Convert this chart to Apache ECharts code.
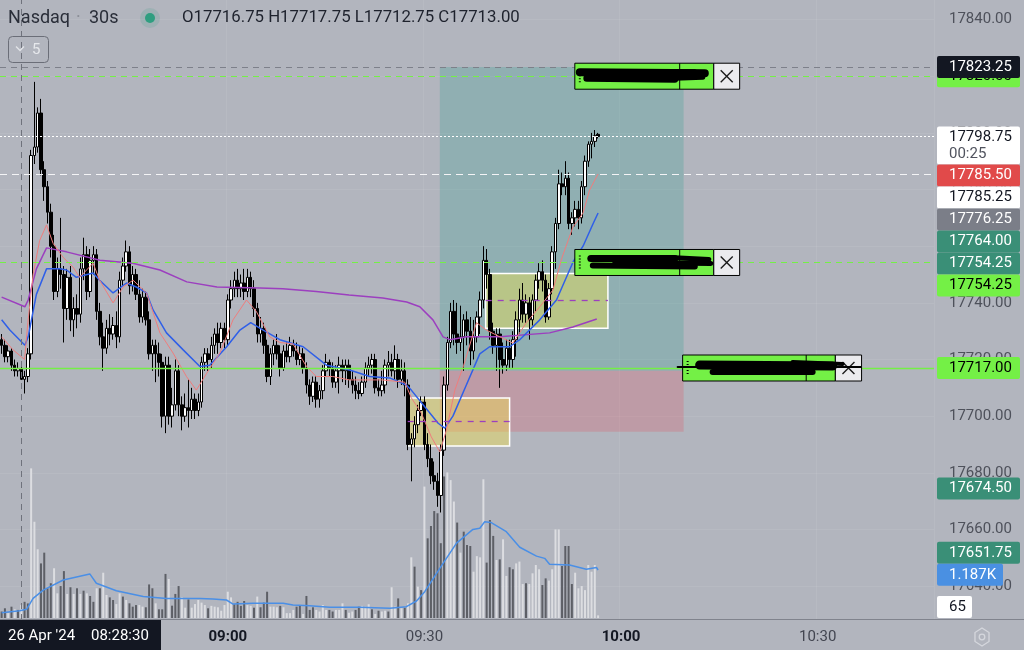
<!DOCTYPE html>
<html><head><meta charset="utf-8">
<script src="https://cdn.jsdelivr.net/npm/echarts@6/dist/echarts.min.js"></script>
<style>html,body{margin:0;padding:0;background:#b2b5be;}#c{width:1024px;height:650px;}</style>
</head><body><div id="c"></div>
<script>
// ---------- DATA ----------
const SYMBOL = 'Nasdaq';
const TIMEFRAME = '30s';
const START_TIME = '08:25:30';
const BAR_SECONDS = 30;
const TIME_TICKS = ['09:00', '09:30', '10:00', '10:30'];
const BOLD_TICKS = ['09:00', '10:00'];
const PRICE_TICKS = [17640, 17660, 17680, 17700, 17720, 17740, 17760, 17780, 17800, 17820, 17840];
const HOVER_BAR = 6;
const HOVER_DATE = "26 Apr '24";
const HOVER_TIME = '08:28:30';
const LEGEND_OHLC = ['O17716.75', 'H17717.75', 'L17712.75', 'C17713.00'];

// [open, close, low, high]
const OHLC = [
[17727,17725,17722,17729],[17725,17721,17719,17727],[17721,17723,17719,17725],[17723,17718,17716,17724],[17718,17716,17714,17720],
[17716,17716.75,17714,17719],[17716.75,17713,17712.75,17717.75],[17713,17714,17708,17716],[17714,17722,17712,17724],[17722,17792,17720,17794],
[17792,17795,17789,17818],[17795,17807,17793,17809],[17807,17787,17785,17812],[17787,17781,17776,17790],[17781,17772,17768,17783],
[17772,17760,17756,17775],[17760,17744,17741,17764],[17744,17752,17742,17756],[17752,17750,17745,17770],[17750,17738,17726,17753],
[17738,17749,17734,17752],[17749,17734,17730,17753],[17734,17738,17728,17742],[17738,17736,17731,17743],[17736,17752,17733,17756],
[17752,17757,17748,17763],[17757,17744,17741,17760],[17744,17755,17742,17759],[17755,17757,17750,17760],[17757,17737,17734,17759],
[17737,17728,17725,17740],[17728,17724,17716,17733],[17724,17731,17722,17734],[17731,17729,17725,17736],[17729,17732,17727,17735],
[17732,17728,17724,17737],[17728,17748,17726,17751],[17748,17753,17746,17756],[17753,17758,17751,17762],[17758,17746,17743,17760],
[17746,17750,17744,17753],[17750,17743,17741,17752],[17743,17735,17733,17748],[17735,17742,17733,17745],[17742,17734,17732,17744],
[17734,17722,17720,17737],[17722,17725,17716,17727],[17725,17722,17712,17727],[17722,17719,17714,17726],[17719,17700,17696,17722],
[17700,17718,17694,17721],[17718,17700,17697,17721],[17700,17704,17696,17710],[17704,17716,17702,17720],[17716,17704,17700,17718],
[17704,17700,17695,17707],[17700,17703,17698,17708],[17703,17702,17696,17713],[17702,17706,17699,17710],[17706,17702,17699,17708],
[17702,17705,17700,17708],[17705,17719,17703,17721],[17719,17722,17716,17724],[17722,17720,17716,17724],[17720,17725,17717,17728],
[17725,17729,17722,17731],[17729,17726,17722,17733],[17726,17731,17724,17733],[17731,17727,17724,17733],[17727,17741,17725,17743],
[17741,17745,17738,17748],[17745,17748,17742,17751],[17748,17745,17742,17752],[17745,17747,17742,17750],[17747,17744,17741,17752],
[17744,17749,17742,17752],[17749,17745,17742,17751],[17745,17738,17735,17748],[17738,17729,17726,17740],[17729,17731,17726,17735],
[17731,17725,17722,17733],[17725,17714,17712,17727],[17714,17722,17711,17724],[17722,17725,17718,17727],[17725,17722,17720,17729],
[17722,17717,17714,17725],[17717,17723,17716,17725],[17723,17721,17719,17726],[17721,17725,17719,17728],[17725,17723,17721,17727],
[17723,17720,17718,17726],[17720,17722,17718,17725],[17722,17717,17715,17724],[17717,17711,17708,17719],[17711,17707,17704,17713],
[17707,17712,17705,17714],[17712,17706,17703,17714],[17706,17709,17703,17711],[17709,17716,17706,17718],[17716,17719,17714,17722],
[17719,17717,17714,17720],[17717,17712,17710,17719],[17712,17716,17710,17718],[17716,17718,17708,17721],[17718,17716,17712,17720],
[17716,17718,17711,17720],[17718,17713,17710,17720],[17713,17711,17708,17716],[17711,17709,17706,17714],[17709,17708,17706,17712],
[17708,17712,17707,17714],[17712,17717,17710,17719],[17717,17718,17714,17721],[17718,17720,17715,17722],[17720,17710,17708,17722],
[17710,17709,17707,17713],[17709,17711,17707,17716],[17711,17718,17708,17720],[17718,17719,17714,17723],[17719,17716,17714,17722],
[17716,17720,17713,17725],[17720,17713,17710,17722],[17713,17716,17711,17720],[17716,17711,17707,17719],[17711,17690,17688,17713],
[17690,17692,17677,17694],[17692,17697,17689,17700],[17697,17702,17694,17704],[17702,17705,17700,17707],[17705,17690,17688,17707],
[17690,17685,17682,17694],[17685,17679,17676,17690],[17679,17677,17674,17684],[17677,17672,17668,17680],[17672,17688,17666,17690],
[17688,17711,17686,17714],[17711,17726,17709,17728],[17726,17737,17724,17740],[17737,17729,17725,17741],[17729,17726,17722,17740],
[17726,17728,17723,17739],[17728,17734,17716,17736],[17734,17730,17725,17737],[17730,17723,17718,17735],[17723,17728,17720,17734],
[17728,17735,17726,17737],[17735,17741,17729,17744],[17741,17755,17738,17760],[17755,17750,17745,17759],[17750,17730,17727,17752],
[17730,17725,17722,17733],[17725,17729,17716,17731],[17729,17720,17710,17731],[17720,17718,17715,17726],[17718,17724,17716,17727],
[17724,17720,17717,17727],[17720,17727,17717,17730],[17727,17734,17721,17737],[17734,17741,17729,17745],[17741,17736,17733,17747],
[17736,17740,17733,17743],[17740,17734,17727,17742],[17734,17741,17732,17743],[17741,17748,17737,17750],[17748,17751,17745,17754],
[17751,17748,17744,17755],[17748,17735,17733,17750],[17735,17745,17734,17747],[17745,17758,17743,17760],[17758,17768,17752,17770],
[17768,17782,17766,17787],[17782,17781,17778,17786],[17781,17784,17778,17790],[17784,17768,17766,17786],[17768,17770,17764,17772],
[17770,17773,17767,17776],[17773,17770,17766,17776],[17770,17781,17768,17783],[17781,17790,17778,17792],[17790,17796,17788,17797],
[17796,17797,17791,17800],[17797,17799,17795,17801],[17799.5,17798.75,17798,17800]
];

const VOLUME = [
160,240,120,280,215,200,320,400,360,3700,
2380,1700,1350,1616,735,860,1230,610,790,1160,
595,760,595,735,595,675,610,545,400,735,
735,1120,570,510,445,345,610,530,445,363,
280,320,320,280,265,830,735,363,215,215,
1090,965,305,595,790,510,255,460,255,345,
445,380,320,240,300,280,265,180,320,650,
510,340,400,300,420,320,300,255,530,265,
380,650,280,280,265,300,265,120,120,200,
280,300,100,545,200,265,200,160,320,200,
200,160,200,200,363,200,130,160,200,280,
300,280,340,215,100,180,160,180,160,760,
280,485,240,255,363,1500,1270,775,690,3250,
1970,2275,2645,2590,1850,3500,3600,3410,2880,2360,
1616,2135,1805,1780,1145,1530,1500,3430,1370,2424,
2030,1435,1450,1945,1040,1255,1205,1350,1395,840,
860,840,1105,1310,1205,815,980,925,1205,2190,
2190,1285,1780,1780,840,1120,735,790,690,1310,
1145,1310,65
];
// u = light (up) volume bar, d = dark (down) volume bar
const VOLUME_SIDE =
'ddudududdu' + 'uudddduudd' + 'ududududdu' + 'duudduudud' + 'dduudddudd' +
'duddduuduu' + 'uuuduuuuuu' + 'udddduudud' + 'dduuuduuuu' + 'dduddduuuu' +
'dduuuduudd' + 'uuududuudu' + 'ududuududu' + 'dddddduuud' + 'uddduuuudd' +
'duduudduuu' + 'duuuudduuu' + 'udddduuuuu' + 'uuu';

// moving averages: [bar index, value]
const EMA_FAST = [[0,17728],[3.5,17723.4],[7,17720],[8,17733],[9.6,17750],[11.6,17762],[13.7,17767.5],[15.7,17761],[18.8,17756],[21.8,17752.6],[23.8,17749],[27.9,17754],[29.9,17748],[34,17740],[37.1,17745.6],[40.1,17748],[44.2,17743.5],[48.3,17729.4],[52.3,17722.3],[56.4,17714],[59.4,17709.2],[62.5,17715],[66.6,17722.3],[70.6,17734],[74.7,17741],[77.7,17737],[81.8,17728],[84.9,17726],[88.9,17725.5],[93,17717.6],[96,17714],[101,17714],[106,17712.8],[116,17712.8],[123,17712],[125,17706.5],[128.1,17701],[131.1,17692.7],[133.7,17687.4],[135.7,17695],[138.3,17709.2],[141,17718],[144.9,17733],[147.9,17730.4],[152,17728],[156,17725.8],[160.1,17733],[164.2,17738.6],[168.2,17744.5],[171,17756],[174.3,17766.7],[177.4,17771.7],[179.4,17779.8],[182,17785.5]];
const EMA_MID = [[0,17734],[2.5,17730.4],[7.1,17725],[8.1,17728],[9.1,17734],[10.6,17743],[13.7,17752],[17.7,17752],[19.8,17751.6],[22.8,17749],[27.9,17750.5],[29.9,17748],[34,17743.5],[38.1,17747],[41.1,17745.6],[44.2,17743.5],[46.2,17737.5],[50.3,17729.4],[55.4,17723.4],[60.5,17717.5],[63.5,17718],[68.6,17724.4],[72.7,17730.4],[76,17733],[79.8,17730.4],[84.9,17727],[92,17724.5],[99.1,17718],[106.2,17716.3],[112.3,17714],[118.4,17713.5],[123.5,17711],[125,17709.2],[129.1,17703.3],[133.2,17697.5],[135.2,17695.8],[137.7,17700],[141.8,17711],[145.9,17722],[148.9,17724.5],[155,17724.5],[158.1,17727],[164.2,17734],[169.3,17741],[174.4,17754.5],[177.4,17760],[180.5,17768],[182,17771.7]];
const EMA_SLOW = [[0,17742],[7.1,17738.6],[8.1,17741],[10.6,17752],[13.7,17759.4],[19.8,17758],[30,17755],[40,17754],[48.3,17751.6],[56.5,17747.4],[65.7,17745.6],[78.8,17745.2],[85.8,17745],[96,17744],[106,17742.8],[116.3,17741.7],[123.6,17740.3],[127.6,17738.6],[131.6,17734],[134.7,17728],[136.8,17727],[141.9,17728],[152,17728],[167.2,17729.4],[174.3,17731.5],[181.6,17734.3]];
const VOLUME_MA = [[0,130],[5.5,180],[7.6,215],[9.6,485],[12.7,690],[18.8,940],[26.9,1090],[28.9,860],[35,675],[43.2,530],[50.3,485],[60.5,485],[64.5,470],[68.6,445],[70.6,345],[76.7,363],[85.9,363],[88.9,320],[94,300],[100.1,265],[109.3,265],[118.4,240],[123.5,280],[126.6,420],[129.1,650],[134.7,1350],[138.8,1850],[143.8,2190],[145.9,2220],[147.4,2380],[149.4,2360],[154,2135],[158.1,1750],[163.2,1530],[165.7,1475],[167.2,1330],[173.3,1310],[178.4,1205],[181.5,1250],[182,1187]];

// drawing-tool values
const POSITION = { from: 133.7, to: 208.1, target: 17823.25, entry: 17716, stop: 17694.5 };
const ZONES = [
  { from: 123.9, to: 155.0, low: 17689.5, high: 17706.4, mid: 17698.05 },
  { from: 147.7, to: 185.0, low: 17731.0, high: 17750.4, mid: 17740.8 }
];
const LEVELS = { stopLine: 17823.25, tp: 17820, last: 17798.75, ema: 17785.5, limit: 17754.25, entry: 17717 };

const PRICE_LABELS = [
  { price: 17820,    text: '17820.00', bg: '#74f046', fg: '#000000', stack: false },
  { price: 17823.25, text: '17823.25', bg: '#131722', fg: '#ffffff' },
  { price: 17798.75, text: '17798.75', sub: '00:25', bg: '#ffffff', fg: '#131722' },
  { price: 17785.5,  text: '17785.50', bg: '#e14a4a', fg: '#ffffff' },
  { price: 17785.25, text: '17785.25', bg: '#ffffff', fg: '#131722' },
  { price: 17776.25, text: '17776.25', bg: '#7b7e88', fg: '#ffffff' },
  { price: 17764.0,  text: '17764.00', bg: '#3a8f77', fg: '#ffffff' },
  { price: 17754.25, text: '17754.25', bg: '#3a8f77', fg: '#ffffff' },
  { price: 17754.25, text: '17754.25', bg: '#74f046', fg: '#000000' },
  { price: 17717.0,  text: '17717.00', bg: '#74f046', fg: '#000000' },
  { price: 17674.5,  text: '17674.50', bg: '#3a8f77', fg: '#ffffff' },
  { price: 17651.75, text: '17651.75', bg: '#3a8f77', fg: '#ffffff' }
];
const VOLUME_LABELS = [
  { vol: 1187, text: '1.187K', bg: '#4a90e2', fg: '#ffffff', w: 66 },
  { vol: 65,   text: '65',     bg: '#ffffff', fg: '#131722', w: 35 }
];
const ORDER_BOXES = [
  { price: 17820,    x0: 174.9, xDiv: 206.9, x1: 217.3, x2: 225.2, scribble: [[5,-4,130,-3,8],[12,2,100,3,7],[60,-5,120,-5,4],[100,2,128,1,5]] },
  { price: 17754.25, x0: 174.9, xDiv: 206.9, x1: 217.3, x2: 225.2, scribble: [[16,-4,100,-4,7],[18,3,120,4,6],[40,0,136,1,5],[95,-5,134,-3,5]] },
  { price: 17717,    x0: 207.8, xDiv: 245.5, x1: 254.4, x2: 262.4, scribble: [[-5,-1,178,-1,2],[17,-3,150,-2,9],[30,4,130,4,6],[110,-6,160,-4,4]] }
];

// ---------- LAYOUT ----------
const N_CATS = 285;
const PLOT_W = 934, PLOT_H = 620, VOL_H = 618;
const Y_MIN = 17628.05, Y_MAX = 17846.9;
const VOL_MAX = 15282;
const FONT = 'Roboto';
const LBL_FS = 15;

function toSec(t) { const p = t.split(':').map(Number); return p[0]*3600 + p[1]*60 + (p[2]||0); }
function fmtT(s) { const h = Math.floor(s/3600), m = Math.floor(s%3600/60), x = s%60; return [h,m,x].map(v => String(v).padStart(2,'0')).join(':'); }
const CATS = [];
for (let i = 0; i < N_CATS; i++) CATS.push(fmtT(toSec(START_TIME) + i*BAR_SECONDS));
const isTick = (idx, val) => val.endsWith(':00') && TIME_TICKS.includes(val.slice(0,5));

const chart = echarts.init(document.getElementById('c'), null, { renderer: 'canvas' });

const gridLine = 'rgba(255,255,255,0.07)';
const option = {
  backgroundColor: '#b2b5be',
  animation: false,
  grid: [
    { left: 0, top: 0, width: PLOT_W, height: PLOT_H },
    { left: 0, top: 0, width: PLOT_W, height: VOL_H }
  ],
  xAxis: [
    { type: 'category', gridIndex: 0, data: CATS, boundaryGap: true,
      axisLine: { show: false }, axisTick: { show: false },
      axisLabel: { interval: isTick, margin: 10,
        formatter: v => { const t = v.slice(0,5); return BOLD_TICKS.includes(t) ? '{b|' + t + '}' : '{n|' + t + '}'; },
        rich: { b: { fontWeight: 'bold', color: '#131722', fontSize: 15, fontFamily: FONT },
                n: { color: '#434651', fontSize: 15, fontFamily: FONT } } },
      splitLine: { show: true, interval: isTick, lineStyle: { color: gridLine } } },
    { type: 'category', gridIndex: 1, data: CATS, boundaryGap: true, show: false },
    { type: 'value', gridIndex: 0, min: -0.5, max: N_CATS - 0.5, show: false },
    { type: 'value', gridIndex: 1, min: -0.5, max: N_CATS - 0.5, show: false }
  ],
  yAxis: [
    { type: 'value', gridIndex: 0, position: 'right', min: Y_MIN, max: Y_MAX,
      axisLine: { show: false }, axisTick: { show: false, customValues: PRICE_TICKS },
      axisLabel: { customValues: PRICE_TICKS, formatter: v => v.toFixed(2), align: 'left', margin: 15,
        color: '#4e515b', fontSize: LBL_FS, fontFamily: FONT },
      splitLine: { show: true, lineStyle: { color: gridLine } } },
    { type: 'value', gridIndex: 1, min: 0, max: VOL_MAX, show: false }
  ],
  series: [
    { type: 'bar', name: 'Volume', xAxisIndex: 1, yAxisIndex: 1, barWidth: 2, z: 1, silent: true,
      data: VOLUME.map((v, i) => ({ value: v, itemStyle: { color: VOLUME_SIDE[i] === 'u' ? '#dcdde1' : '#5d5f66' } })) },
    { type: 'line', name: 'Volume MA', xAxisIndex: 3, yAxisIndex: 1, data: VOLUME_MA, symbol: 'none', z: 2,
      lineStyle: { color: '#4a8fe6', width: 1.5 } },
    { type: 'line', name: 'Drawings', xAxisIndex: 2, yAxisIndex: 0, data: EMA_SLOW, symbol: 'none', z: 2, silent: true,
      lineStyle: { opacity: 0 },
      markArea: { silent: true, data: [
        [{ coord: [POSITION.from, POSITION.target], itemStyle: { color: 'rgba(8,153,129,0.2)' } }, { coord: [POSITION.to, POSITION.entry] }],
        [{ coord: [POSITION.from, POSITION.entry], itemStyle: { color: 'rgba(242,54,69,0.2)' } }, { coord: [POSITION.to, POSITION.stop] }],
        ...ZONES.map(z => [{ coord: [z.from, z.high], itemStyle: { color: 'rgba(255,235,59,0.36)', borderColor: '#ffffff', borderWidth: 1.5 } }, { coord: [z.to, z.low] }])
      ] },
      markLine: { silent: true, symbol: ['none', 'none'], label: { show: false }, data: [
        { yAxis: LEVELS.stopLine, lineStyle: { color: '#7d808a', type: [6, 5], width: 1 } },
        { yAxis: LEVELS.tp, lineStyle: { color: '#74f046', type: [6, 5], width: 1.2 } },
        { yAxis: LEVELS.last, lineStyle: { color: '#ffffff', type: [2, 2], width: 1 } },
        { yAxis: LEVELS.ema, lineStyle: { color: '#f4f4f6', type: [7, 5], width: 1.2 } },
        { yAxis: LEVELS.limit, lineStyle: { color: '#74f046', type: [6, 5], width: 1.2 } },
        { yAxis: LEVELS.entry, lineStyle: { color: '#74f046', type: 'solid', width: 1.3 } },
        { xAxis: HOVER_BAR, lineStyle: { color: '#6f727c', type: [6, 5], width: 1 } },
        ...ZONES.map(z => [{ coord: [z.from, z.mid], lineStyle: { color: '#9c3fbf', type: [6, 6], width: 1.3 } }, { coord: [z.to, z.mid] }])
      ] } },
    { type: 'candlestick', name: SYMBOL, xAxisIndex: 0, yAxisIndex: 0, data: OHLC, barWidth: 3, z: 3,
      itemStyle: { color: '#ffffff', color0: '#000000', borderColor: '#000000', borderColor0: '#000000', borderWidth: 1 } },
    { type: 'line', name: 'VWAP', xAxisIndex: 2, yAxisIndex: 0, data: EMA_SLOW, symbol: 'none', z: 4,
      lineStyle: { color: '#9c3fbf', width: 1.5 } },
    { type: 'line', name: 'EMA slow', xAxisIndex: 2, yAxisIndex: 0, data: EMA_MID, symbol: 'none', z: 4,
      lineStyle: { color: '#2f5fe8', width: 1.5 } },
    { type: 'line', name: 'EMA fast', xAxisIndex: 2, yAxisIndex: 0, data: EMA_FAST, symbol: 'none', z: 4,
      lineStyle: { color: '#ef7d7d', width: 1 } }
  ]
};
chart.setOption(option);

// ---------- overlay graphics (price-scale labels, legend, order tags) ----------
const X = i => chart.convertToPixel({ xAxisIndex: 2 }, i);
const Y = p => chart.convertToPixel({ yAxisIndex: 0 }, p);
const YV = v => chart.convertToPixel({ yAxisIndex: 1 }, v);
const G = [];
const Z = 100;
const txt = (x, y, s, o) => G.push(Object.assign({ type: 'text', z: Z + 2, x, y,
  style: Object.assign({ text: s, fontFamily: FONT, fontSize: LBL_FS, fill: '#131722', textVerticalAlign: 'middle' }, o || {}) }));

// order tags
ORDER_BOXES.forEach(b => {
  const cy = Y(b.price), x0 = X(b.x0), xd = X(b.xDiv), x1 = X(b.x1), x2 = X(b.x2), h = 26, top = cy - 13;
  G.push({ type: 'rect', z: Z, shape: { x: x0, y: top, width: x1 - x0, height: h }, style: { fill: '#74f046', stroke: '#000', lineWidth: 1 } });
  G.push({ type: 'line', z: Z + 1, shape: { x1: xd, y1: top, x2: xd, y2: top + h }, style: { stroke: '#000', lineWidth: 1 } });
  G.push({ type: 'rect', z: Z, shape: { x: x1, y: top, width: x2 - x1, height: h }, style: { fill: '#ebebee', stroke: '#000', lineWidth: 1 } });
  const cx = (x1 + x2) / 2;
  G.push({ type: 'line', z: Z + 2, shape: { x1: cx - 6, y1: cy - 6, x2: cx + 6, y2: cy + 6 }, style: { stroke: '#1a1a1a', lineWidth: 1.4 } });
  G.push({ type: 'line', z: Z + 2, shape: { x1: cx - 6, y1: cy + 6, x2: cx + 6, y2: cy - 6 }, style: { stroke: '#1a1a1a', lineWidth: 1.4 } });
  G.push({ type: 'line', z: Z + 2, shape: { x1: x0 + 5, y1: cy - 7, x2: x0 + 5, y2: cy + 7 }, style: { stroke: '#000', lineWidth: 2, lineDash: [1, 2] } });
  b.scribble.forEach(s => G.push({ type: 'line', z: Z + 3, shape: { x1: x0 + s[0], y1: cy + s[1], x2: x0 + s[2], y2: cy + s[3] },
    style: { stroke: '#000', lineWidth: s[4], lineCap: 'round' } }));
});

// price-scale labels with stacking
const LBL_X = 937, LBL_W = 83, LBL_H = 22;
const items = PRICE_LABELS.map(l => Object.assign({}, l, { y: Y(l.price), w: LBL_W }))
  .concat(VOLUME_LABELS.map(l => Object.assign({}, l, { y: YV(l.vol) })));
const free = items.filter(l => l.stack === false);
const stacked = items.filter(l => l.stack !== false).sort((a, b) => a.y - b.y);
let prevBottom = -1e9;
stacked.forEach(l => {
  const h = l.sub ? 38 : LBL_H;
  const off = l.sub ? 10 : LBL_H / 2;
  let top = Math.max(l.y - off, prevBottom);
  if (top + h > VOL_H) top = VOL_H - h;
  l.top = top; l.h = h; prevBottom = top + h;
});
free.forEach(l => { l.h = LBL_H; l.top = l.y - LBL_H / 2; });
free.concat(stacked).forEach((l, k) => {
  const zz = Z + 10 + k * 3;
  G.push({ type: 'rect', z: zz, shape: { x: LBL_X, y: l.top, width: l.w, height: l.h, r: 2 }, style: { fill: l.bg } });
  G.push({ type: 'text', z: zz + 1, x: 949, y: l.top + 11, style: { text: l.text, fontFamily: FONT, fontSize: LBL_FS, fill: l.fg, textVerticalAlign: 'middle' } });
  if (l.sub) G.push({ type: 'text', z: zz + 1, x: 949, y: l.top + 28, style: { text: l.sub, fontFamily: FONT, fontSize: LBL_FS, fill: '#50535e', textVerticalAlign: 'middle' } });
});

// time-scale strip
G.push({ type: 'line', z: Z, shape: { x1: 0, y1: 619.5, x2: 1024, y2: 619.5 }, style: { stroke: '#80838d', lineWidth: 1 } });
G.push({ type: 'rect', z: Z + 1, shape: { x: 0, y: 620, width: 161, height: 30 }, style: { fill: '#131722' } });
txt(8, 636, HOVER_DATE, { fill: '#ffffff', fontSize: 15 });
txt(91, 636, HOVER_TIME, { fill: '#ffffff', fontSize: 15 });
// settings hexagon
const hx = 982, hy = 637, hr = 9;
G.push({ type: 'polygon', z: Z, shape: { points: [0,1,2,3,4,5].map(k => [hx + hr * Math.cos(Math.PI/3*k + Math.PI/2) * 0.9, hy + hr * Math.sin(Math.PI/3*k + Math.PI/2)]) },
  style: { fill: 'none', stroke: '#d5d7dd', lineWidth: 1.3 } });
G.push({ type: 'circle', z: Z, shape: { cx: hx, cy: hy, r: 2.8 }, style: { fill: 'none', stroke: '#d5d7dd', lineWidth: 1.3 } });

// legend
txt(8, 18, SYMBOL, { fontSize: 18, fill: '#2a2e39' });
txt(76, 18, '·', { fontSize: 18, fill: '#8b8e97' });
txt(89, 18, TIMEFRAME, { fontSize: 18, fill: '#2a2e39' });
G.push({ type: 'circle', z: Z, shape: { cx: 150, cy: 18, r: 10 }, style: { fill: 'rgba(47,158,128,0.16)' } });
G.push({ type: 'circle', z: Z + 1, shape: { cx: 150, cy: 18, r: 5 }, style: { fill: '#2f9e80' } });
G.push({ type: 'text', z: Z + 2, x: 182, y: 18, style: { text: LEGEND_OHLC.join(' '), fontFamily: FONT, fontSize: 16.8, fill: '#1e222d', textVerticalAlign: 'middle' } });
G.push({ type: 'rect', z: Z, shape: { x: 8.5, y: 36.5, width: 40, height: 26, r: 4 }, style: { fill: 'none', stroke: '#6b6e78', lineWidth: 1 } });
G.push({ type: 'polyline', z: Z, shape: { points: [[16, 46.5], [20, 50.5], [24, 46.5]] }, style: { stroke: '#e2e4e8', lineWidth: 1.3, fill: 'none' } });
txt(32, 50, '5', { fontSize: 15, fill: '#e6e8ec' });

chart.setOption({ graphic: { elements: G } });
</script>
</body></html>
